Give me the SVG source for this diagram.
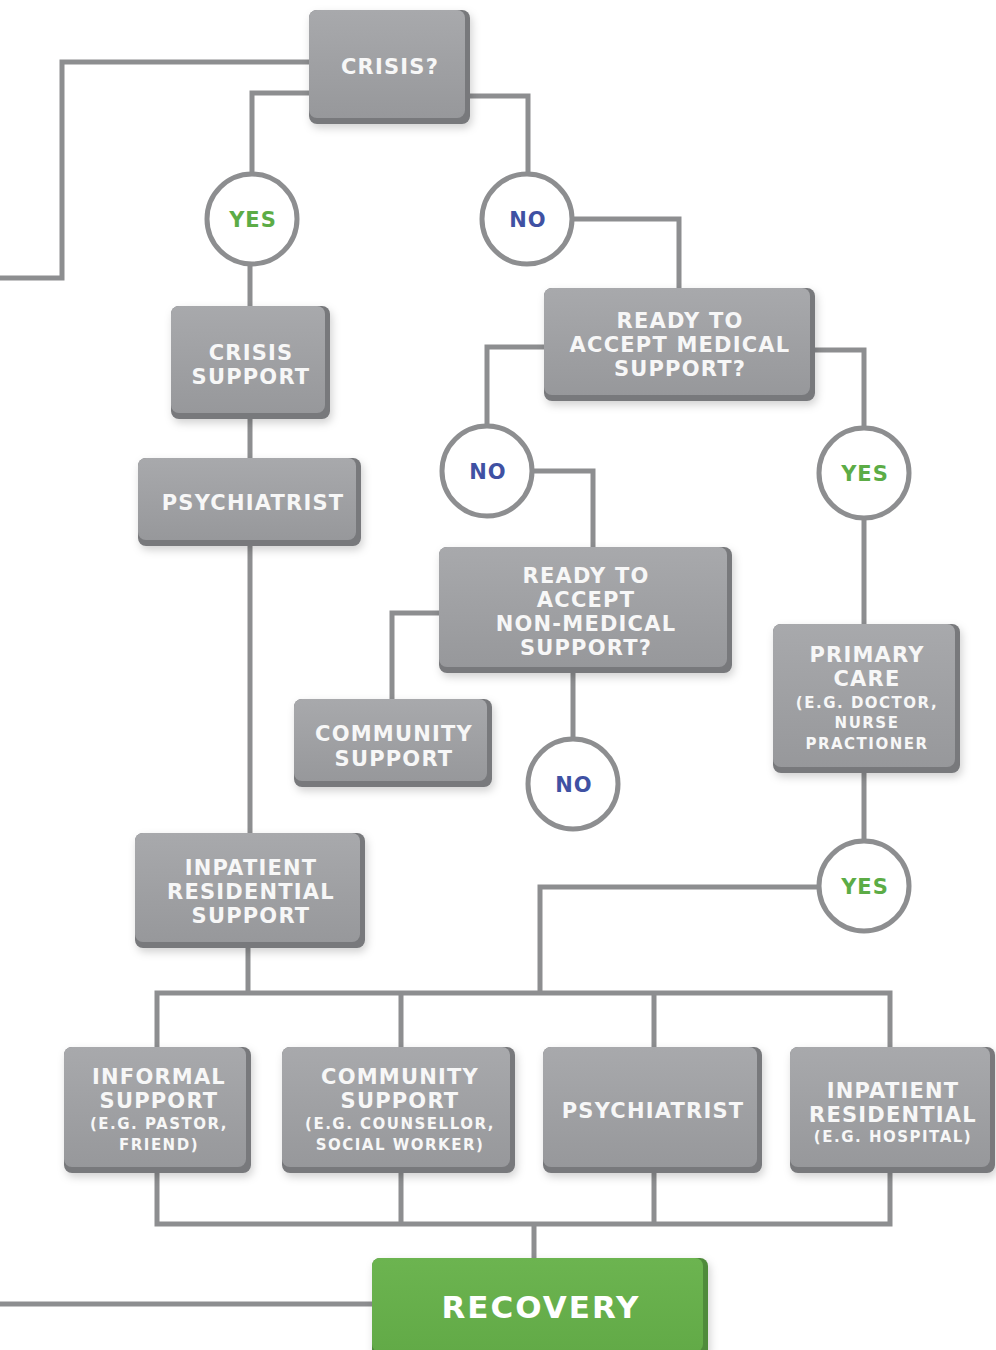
<svg xmlns="http://www.w3.org/2000/svg" width="996" height="1350" viewBox="0 0 996 1350">
<defs>
<linearGradient id="gface" x1="0" y1="0" x2="0" y2="1">
<stop offset="0" stop-color="#a8a9ac"/>
<stop offset="1" stop-color="#97989b"/>
</linearGradient>
<linearGradient id="ggreen" x1="0" y1="0" x2="0" y2="1">
<stop offset="0" stop-color="#6cb450"/>
<stop offset="1" stop-color="#62aa47"/>
</linearGradient>
<filter id="sh" x="-10%" y="-10%" width="125%" height="130%">
<feDropShadow dx="2" dy="4" stdDeviation="4" flood-color="#000" flood-opacity="0.18"/>
</filter>
</defs>
<style>
.ln{fill:none;stroke:#8d8e90;stroke-width:5;stroke-linejoin:miter}
.edge{fill:#78797c;filter:url(#sh)}
.face{fill:url(#gface)}
.gedge{fill:#4f8b3a;filter:url(#sh)}
.gface{fill:url(#ggreen)}
.circ{fill:#fff;stroke:#8d8e90;stroke-width:5}
text{font-family:"DejaVu Sans","Liberation Sans",sans-serif;font-weight:bold;text-anchor:middle}
.t{font-size:21px;letter-spacing:1.2px;fill:#f7f7f7}
.s{font-size:15px;letter-spacing:1.5px;fill:#f7f7f7}
.yes{font-size:21px;letter-spacing:1px;fill:#5cac46}
.no{font-size:21px;letter-spacing:1px;fill:#3f51a3}
.rec{font-size:31px;letter-spacing:2px;fill:#fff}
</style>
<rect width="996" height="1350" fill="#fff"/>
<g id="connectors">
<path class="ln" d="M309,62 H62 V278 H0"/>
<path class="ln" d="M309,93 H252 V219 M250,219 V306"/>
<path class="ln" d="M470,96 H528 V219"/>
<path class="ln" d="M528,219 H679 V288"/>
<path class="ln" d="M544,347 H487 V471"/>
<path class="ln" d="M815,350 H864 V624"/>
<path class="ln" d="M487,471 H593 V547"/>
<path class="ln" d="M439,613 H392 V699"/>
<path class="ln" d="M573,673 V784"/>
<path class="ln" d="M250,419 V458 M250,546 V833"/>
<path class="ln" d="M864,773 V887 H540 V993"/>
<path class="ln" d="M248,948 V993"/>
<path class="ln" d="M157,1047 V993 H890 V1047 M401,993 V1047 M654,993 V1047"/>
<path class="ln" d="M157,1173 V1224 H890 V1173 M401,1173 V1224 M654,1173 V1224 M534,1224 V1258"/>
<path class="ln" d="M0,1304 H372"/>
</g>
<g id="crisis">
<rect class="edge" x="309" y="10" width="161" height="114" rx="8"/>
<rect class="face" x="309" y="10" width="156" height="108" rx="8"/>
<text class="t" x="390" y="74">CRISIS?</text>
</g>
<g id="yes1">
<circle class="circ" cx="252" cy="219" r="45"/>
<text class="yes" x="253" y="227">YES</text>
</g>
<g id="no1">
<circle class="circ" cx="527" cy="219" r="45"/>
<text class="no" x="528" y="227">NO</text>
</g>
<g id="crisis-support">
<rect class="edge" x="171" y="306" width="159" height="113" rx="8"/>
<rect class="face" x="171" y="306" width="154" height="107" rx="8"/>
<text class="t" x="251" y="360">CRISIS</text>
<text class="t" x="251" y="384">SUPPORT</text>
</g>
<g id="psychiatrist-top">
<rect class="edge" x="138" y="458" width="223" height="88" rx="8"/>
<rect class="face" x="138" y="458" width="218" height="82" rx="8"/>
<text class="t" x="253" y="510">PSYCHIATRIST</text>
</g>
<g id="ready-medical">
<rect class="edge" x="544" y="288" width="271" height="113" rx="8"/>
<rect class="face" x="544" y="288" width="266" height="107" rx="8"/>
<text class="t" x="680" y="328">READY TO</text>
<text class="t" x="680" y="352">ACCEPT MEDICAL</text>
<text class="t" x="680" y="376">SUPPORT?</text>
</g>
<g id="no2">
<circle class="circ" cx="487" cy="471" r="45"/>
<text class="no" x="488" y="479">NO</text>
</g>
<g id="yes2">
<circle class="circ" cx="864" cy="473" r="45"/>
<text class="yes" x="865" y="481">YES</text>
</g>
<g id="ready-nonmedical">
<rect class="edge" x="439" y="547" width="293" height="126" rx="8"/>
<rect class="face" x="439" y="547" width="288" height="120" rx="8"/>
<text class="t" x="586" y="583">READY TO</text>
<text class="t" x="586" y="607">ACCEPT</text>
<text class="t" x="586" y="631">NON-MEDICAL</text>
<text class="t" x="586" y="655">SUPPORT?</text>
</g>
<g id="community-support-top">
<rect class="edge" x="294" y="699" width="198" height="88" rx="8"/>
<rect class="face" x="294" y="699" width="193" height="82" rx="8"/>
<text class="t" x="394" y="741">COMMUNITY</text>
<text class="t" x="394" y="766">SUPPORT</text>
</g>
<g id="no3">
<circle class="circ" cx="573" cy="784" r="45"/>
<text class="no" x="574" y="792">NO</text>
</g>
<g id="primary-care">
<rect class="edge" x="773" y="624" width="187" height="149" rx="8"/>
<rect class="face" x="773" y="624" width="182" height="143" rx="8"/>
<text class="t" x="867" y="662">PRIMARY</text>
<text class="t" x="867" y="686">CARE</text>
<text class="s" x="867" y="708">(E.G. DOCTOR,</text>
<text class="s" x="867" y="728">NURSE</text>
<text class="s" x="867" y="749">PRACTIONER</text>
</g>
<g id="yes3">
<circle class="circ" cx="864" cy="886" r="45"/>
<text class="yes" x="865" y="894">YES</text>
</g>
<g id="inpatient-top">
<rect class="edge" x="135" y="833" width="230" height="115" rx="8"/>
<rect class="face" x="135" y="833" width="225" height="109" rx="8"/>
<text class="t" x="251" y="875">INPATIENT</text>
<text class="t" x="251" y="899">RESIDENTIAL</text>
<text class="t" x="251" y="923">SUPPORT</text>
</g>
<g id="informal-support">
<rect class="edge" x="64" y="1047" width="187" height="126" rx="8"/>
<rect class="face" x="64" y="1047" width="182" height="120" rx="8"/>
<text class="t" x="159" y="1084">INFORMAL</text>
<text class="t" x="159" y="1108">SUPPORT</text>
<text class="s" x="159" y="1129">(E.G. PASTOR,</text>
<text class="s" x="159" y="1150">FRIEND)</text>
</g>
<g id="community-support-bottom">
<rect class="edge" x="282" y="1047" width="233" height="126" rx="8"/>
<rect class="face" x="282" y="1047" width="228" height="120" rx="8"/>
<text class="t" x="400" y="1084">COMMUNITY</text>
<text class="t" x="400" y="1108">SUPPORT</text>
<text class="s" x="400" y="1129">(E.G. COUNSELLOR,</text>
<text class="s" x="400" y="1150">SOCIAL WORKER)</text>
</g>
<g id="psychiatrist-bottom">
<rect class="edge" x="543" y="1047" width="219" height="126" rx="8"/>
<rect class="face" x="543" y="1047" width="214" height="120" rx="8"/>
<text class="t" x="653" y="1118">PSYCHIATRIST</text>
</g>
<g id="inpatient-bottom">
<rect class="edge" x="790" y="1047" width="205" height="126" rx="8"/>
<rect class="face" x="790" y="1047" width="200" height="120" rx="8"/>
<text class="t" x="893" y="1098">INPATIENT</text>
<text class="t" x="893" y="1122">RESIDENTIAL</text>
<text class="s" x="893" y="1142">(E.G. HOSPITAL)</text>
</g>
<g id="recovery">
<rect class="gedge" x="372" y="1258" width="336" height="100" rx="8"/>
<rect class="gface" x="372" y="1258" width="331" height="94" rx="8"/>
<text class="rec" x="541" y="1318">RECOVERY</text>
</g>
</svg>
